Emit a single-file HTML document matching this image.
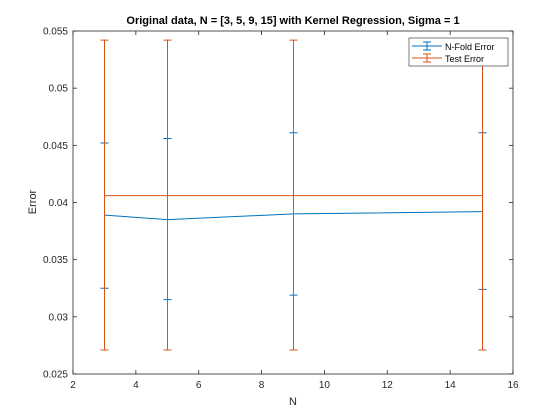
<!DOCTYPE html>
<html><head><meta charset="utf-8"><style>
body{margin:0;background:#fff;}
svg{display:block;font-family:"Liberation Sans",Arial,sans-serif;}
</style></head><body>
<svg id="chart" width="560" height="420">
<rect x="0" y="0" width="560" height="420" fill="#fff"/>
<rect x="73" y="31" width="440" height="343" fill="#fff" stroke="#262626" stroke-width="0.8"/>
<g id="ticks"></g>
<g id="series"></g>
<text x="293" y="24" text-anchor="middle" font-size="11" font-weight="bold" fill="#000">Original data, N = [3, 5, 9, 15] with Kernel Regression, Sigma = 1</text>
<text x="293" y="405" text-anchor="middle" font-size="11" fill="#262626">N</text>
<text x="0" y="0" transform="translate(36,202) rotate(-90)" text-anchor="middle" font-size="11" fill="#262626">Error</text>
<g>
<rect x="409" y="38" width="99" height="28" fill="#fff" stroke="#262626" stroke-width="0.6"/>
<line x1="412" y1="46" x2="442" y2="46" stroke="#0072BD"/>
<line x1="427" y1="42" x2="427" y2="50" stroke="#0072BD"/><line x1="423" y1="42" x2="431" y2="42" stroke="#0072BD"/><line x1="423" y1="50" x2="431" y2="50" stroke="#0072BD"/>
<text x="445" y="50" font-size="9" fill="#000">N-Fold Error</text>
<line x1="412" y1="58" x2="442" y2="58" stroke="#D95319"/>
<line x1="427" y1="54" x2="427" y2="62" stroke="#D95319"/><line x1="423" y1="54" x2="431" y2="54" stroke="#D95319"/><line x1="423" y1="62" x2="431" y2="62" stroke="#D95319"/>
<text x="445" y="62" font-size="9" fill="#000">Test Error</text>
</g>
</svg>
<script>
const nValues=[3,5,9,15];
const nfoldMean=[0.0389,0.0385,0.0390,0.0392];
const nfoldUpper=[0.0452,0.0456,0.0461,0.0461];
const nfoldLower=[0.0325,0.0315,0.0319,0.0324];
const testMean=[0.0406,0.0406,0.0406,0.0406];
const testUpper=[0.0542,0.0542,0.0542,0.0542];
const testLower=[0.0271,0.0271,0.0271,0.0271];
const xTicks=[2,4,6,8,10,12,14,16];
const yTicks=[0.025,0.03,0.035,0.04,0.045,0.05,0.055];
const yTickLabels=["0.025","0.03","0.035","0.04","0.045","0.05","0.055"];

const NS="http://www.w3.org/2000/svg";
const X0=73,X1=513,Y0=374,Y1=31;
const xs=v=>X0+(v-2)/(16-2)*(X1-X0);
const ys=v=>Y0-(v-0.025)/(0.055-0.025)*(Y0-Y1);
function mk(tag,attrs,parent){const e=document.createElementNS(NS,tag);for(const k in attrs)e.setAttribute(k,attrs[k]);parent.appendChild(e);return e;}
const tg=document.getElementById('ticks');
xTicks.forEach(t=>{
  const x=xs(t);
  mk('line',{x1:x,x2:x,y1:Y0,y2:Y0-4,stroke:'#262626','stroke-width':0.8},tg);
  mk('line',{x1:x,x2:x,y1:Y1,y2:Y1+4,stroke:'#262626','stroke-width':0.8},tg);
  const tx=mk('text',{x:x,y:Y0+14,'text-anchor':'middle','font-size':10,fill:'#262626'},tg);
  tx.textContent=t;
  
  
});
yTicks.forEach((t,i)=>{
  const y=ys(t);
  mk('line',{x1:X0,x2:X0+4,y1:y,y2:y,stroke:'#262626','stroke-width':0.8},tg);
  mk('line',{x1:X1,x2:X1-4,y1:y,y2:y,stroke:'#262626','stroke-width':0.8},tg);
  const tx=mk('text',{x:X0-5,y:y+3.5,'text-anchor':'end','font-size':10,fill:'#262626'},tg);
  tx.textContent=yTickLabels[i];
  
  
});
const sg=document.getElementById('series');
function series(mean,lo,hi,color,name){
  const g=mk('g',{},sg);
  
  
  nValues.forEach((n,i)=>{
    const x=Math.round(xs(n))+0.5;
    const bar=mk('path',{d:`M${x},${ys(lo[i])}V${ys(hi[i])}M${x-4},${ys(lo[i])}H${x+4}M${x-4},${ys(hi[i])}H${x+4}`,stroke:color,fill:'none','stroke-width':1},g);
    
    
  });
  const line=mk('polyline',{points:nValues.map((n,i)=>(Math.round(xs(n))+0.5)+','+ys(mean[i])).join(' '),stroke:color,fill:'none','stroke-width':1},g);
  
  
}
series(nfoldMean,nfoldLower,nfoldUpper,'#0072BD','nfold-error');
series(testMean,testLower,testUpper,'#D95319','test-error');
</script>
</body></html>
